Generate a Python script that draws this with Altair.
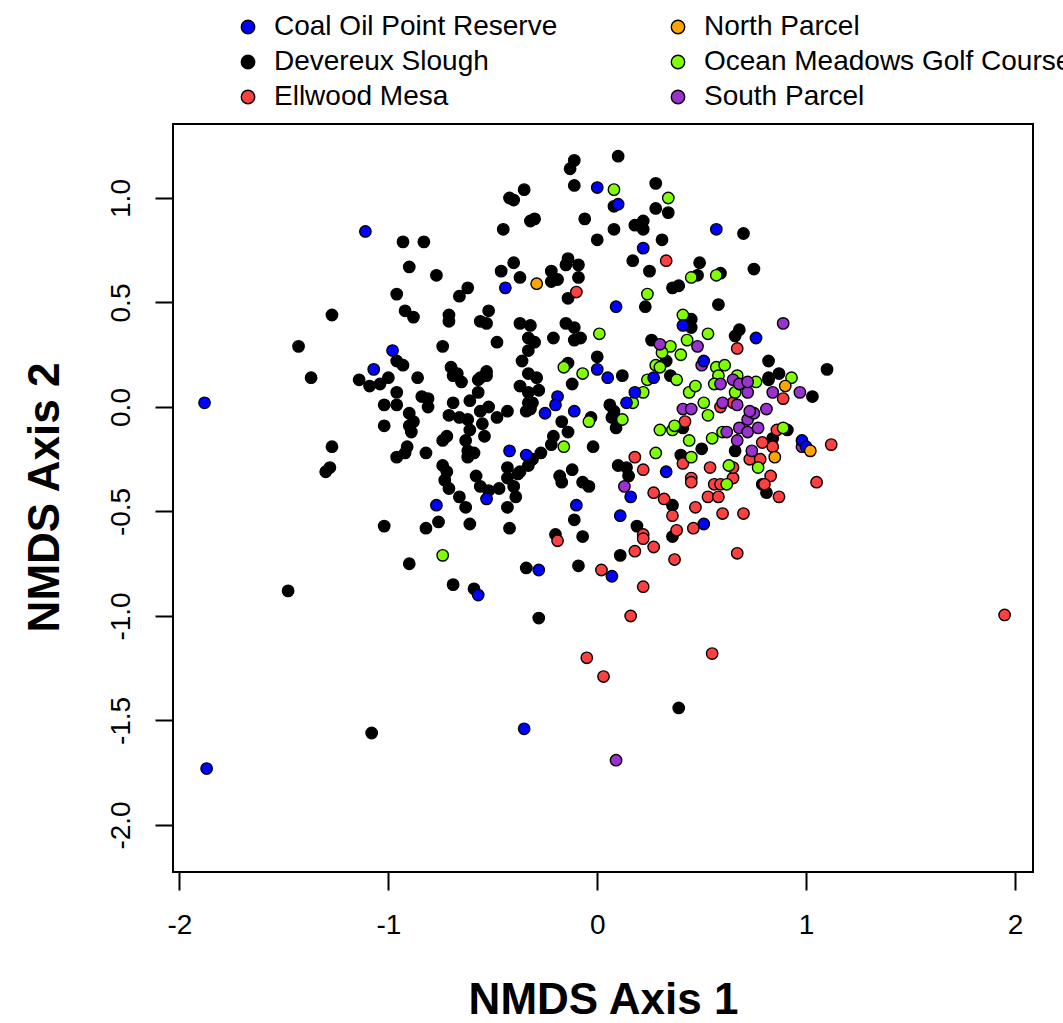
import altair as alt
import pandas as pd

groups = ["Coal Oil Point Reserve", "Devereux Slough", "Ellwood Mesa",
          "North Parcel", "Ocean Meadows Golf Course", "South Parcel"]
palette = ["#0000FF", "#000000", "#FF4040", "#FFA500", "#7FFF00", "#9A32CD"]

coal = [(-1.88,0.02),(-1.87,-1.73),(-0.35,-1.54),(-1.11,0.84),(-0.44,0.57),(-0.98,0.27),(-1.07,0.18),
        (0.00,1.05),(0.10,0.97),(0.57,0.85),(0.22,0.76),(0.09,0.48),(0.41,0.39),(0.76,0.33),(0.51,0.22),
        (0.00,0.18),(0.05,0.14),(0.27,0.14),(-0.42,-0.21),(-0.34,-0.23),(-0.53,-0.44),(-0.77,-0.47),
        (-0.57,-0.90),(-0.28,-0.78),(-0.19,0.05),(-0.20,0.01),(-0.25,-0.03),(-0.11,-0.02),(0.14,0.02),
        (0.18,0.07),(0.16,-0.43),(-0.10,-0.47),(0.11,-0.52),(0.07,-0.81),(0.33,-0.31),(0.51,-0.56),
        (0.98,-0.16),(1.00,-0.19)]

devereux = [(-1.27,0.44),(-1.43,0.29),(-1.37,0.14),(-1.27,-0.19),(-1.30,-0.31),(-1.28,-0.29),(-1.48,-0.88),
            (-1.08,-1.56),(0.39,-1.44),(-0.28,-1.01),
            (-0.35,1.04),(-0.42,1.00),(-0.40,0.99),(-0.32,0.89),(-0.30,0.90),(-0.45,0.85),(-0.93,0.79),
            (-0.83,0.79),(-0.90,0.67),(-0.77,0.63),(-0.40,0.69),(-0.46,0.65),(-0.37,0.62),(-0.62,0.57),
            (-0.66,0.53),(-0.96,0.54),(-0.92,0.46),(-0.88,0.43),(-0.71,0.44),(-0.71,0.41),(-0.52,0.46),
            (-0.56,0.41),(-0.53,0.40),(-0.37,0.40),(-0.32,0.39),(-0.33,0.33),(-0.30,0.31),(-0.33,0.27),
            (-0.48,0.31),(-0.74,0.29),(-0.36,0.22),(-0.96,0.22),(-0.93,0.20),(-0.70,0.19),(-0.67,0.16),
            (-0.53,0.17),(-0.56,0.14),(-1.14,0.13),(-0.86,0.14),(-0.33,0.16),(-0.29,0.14),
            (0.10,1.20),(-0.11,1.18),(-0.13,1.14),(-0.11,1.06),(0.28,1.07),(0.08,0.96),(0.28,0.95),
            (0.34,0.93),(-0.06,0.90),(0.18,0.87),(0.22,0.89),(0.22,0.85),(0.08,0.85),(0.70,0.83),
            (0.00,0.80),(0.31,0.80),(0.17,0.70),(0.49,0.69),(-0.14,0.71),(-0.15,0.68),(-0.09,0.68),
            (0.25,0.65),(0.75,0.66),(-0.22,0.65),(-0.22,0.60),(-0.19,0.61),(-0.09,0.62),(0.48,0.63),
            (0.59,0.64),(-0.14,0.52),(0.36,0.57),(0.39,0.58),(0.23,0.48),(0.58,0.49),(0.45,0.42),
            (0.45,0.38),(-0.15,0.40),(-0.11,0.38),(-0.11,0.32),(-0.08,0.33),(-0.21,0.33),(0.68,0.37),
            (0.66,0.34),(0.26,0.32),(0.00,0.24),(0.82,0.22),(0.33,0.22),(-0.14,0.21),(0.12,0.15),
            (-1.09,0.10),(-1.04,0.11),(-1.00,0.14),(-0.96,0.07),(-1.02,0.01),(-0.96,0.01),(-0.84,0.05),
            (-0.81,0.04),(-0.81,0.00),(-0.90,-0.03),(-0.88,-0.07),(-0.90,-0.09),(-0.89,-0.12),(-1.02,-0.09),
            (-0.69,0.02),(-0.71,-0.04),(-0.66,-0.05),(-0.62,-0.06),(-0.65,0.12),(-0.69,0.15),(-0.57,0.13),
            (-0.53,0.15),(-0.61,0.03),(-0.57,0.07),(-0.56,-0.02),(-0.52,0.00),(-0.48,-0.05),(-0.43,-0.02),
            (-0.55,-0.08),(-0.54,-0.14),(-0.61,-0.11),(-0.63,-0.16),(-0.62,-0.21),(-0.59,-0.22),(-0.62,-0.24),
            (-0.37,0.10),(-0.33,0.07),(-0.33,0.02),(-0.34,-0.02),(-0.31,0.02),(-0.74,-0.16),(-0.72,-0.14),
            (-0.91,-0.19),(-0.96,-0.24),(-0.92,-0.22),(-0.82,-0.22),(-0.74,-0.28),(-0.72,-0.31),(-0.73,-0.35),
            (-0.71,-0.39),(-0.33,-0.28),(-0.43,-0.29),(-0.38,-0.32),(-0.43,-0.34),(-0.40,-0.38),(-0.39,-0.43),
            (-0.58,-0.33),(-0.56,-0.38),(-0.52,-0.40),(-0.47,-0.39),(-0.66,-0.43),(-0.63,-0.48),(-0.43,-0.48),
            (-1.02,-0.57),(-0.82,-0.58),(-0.76,-0.55),(-0.61,-0.56),(-0.42,-0.58),(-0.90,-0.75),(-0.69,-0.85),
            (-0.59,-0.87),(-0.34,-0.77),
            (-0.12,0.11),(-0.32,-0.01),(-0.28,0.08),(-0.17,-0.07),(-0.14,-0.12),(-0.21,-0.14),(-0.22,-0.18),
            (-0.27,-0.22),(-0.31,-0.25),(-0.37,-0.31),(-0.03,-0.05),(-0.02,-0.19),(0.06,0.01),(0.08,-0.02),
            (0.09,-0.10),(0.07,-0.05),(0.35,0.15),(-0.12,-0.30),(-0.18,-0.33),(-0.17,-0.36),(-0.07,-0.36),
            (-0.04,-0.38),(0.10,-0.28),(0.14,-0.29),(0.15,-0.33),(-0.11,-0.54),(-0.20,-0.61),(-0.07,-0.62),
            (-0.09,-0.76),(0.11,-0.71),(0.19,-0.57),(0.36,-0.62),(0.36,-0.47),(0.40,-0.23),(0.50,-0.20),
            (0.66,-0.21),(0.79,-0.37),(0.81,-0.41),(0.84,-0.15),(0.41,-0.10),(0.82,0.14),
            (1.10,0.18),(1.03,0.05),(0.82,0.13),(0.87,0.16),(0.91,-0.11)]

ellwood = [(1.95,-0.995),(-0.05,-1.20),(0.03,-1.29),(0.55,-1.18),(0.16,-1.00),(0.33,0.70),(-0.10,0.55),
           (0.67,0.28),(-0.19,-0.64),(0.02,-0.78),(0.22,-0.86),(0.18,-0.69),(0.27,-0.67),(0.22,-0.61),
           (0.22,-0.63),(0.37,-0.73),(0.38,-0.59),(0.46,-0.58),(0.67,-0.70),(0.18,-0.24),(0.22,-0.30),
           (0.27,-0.41),(0.32,-0.44),(0.36,-0.52),(0.47,-0.48),(0.41,-0.27),(0.45,-0.34),(0.45,-0.36),
           (0.54,-0.29),(0.53,-0.43),(0.58,-0.43),(0.56,-0.37),(0.59,-0.37),(0.60,-0.51),(0.70,-0.51),
           (0.65,-0.34),(0.65,-0.29),(0.73,-0.25),(0.78,-0.25),(0.83,-0.33),(0.80,-0.37),(0.87,-0.43),
           (0.79,-0.17),(0.42,-0.07),(0.59,0.00),(0.65,0.02),(0.86,-0.11),(0.89,0.04),(1.12,-0.18),
           (1.05,-0.36),(0.84,-0.19)]

north = [(-0.29,0.59),(0.85,-0.24),(0.90,0.10),(1.02,-0.21)]

ocean = [(0.08,1.04),(0.34,1.00),(0.45,0.62),(0.57,0.63),(0.24,0.54),(0.41,0.44),(0.01,0.35),(0.53,0.35),
         (0.35,0.29),(0.31,0.26),(0.43,0.32),(0.40,0.25),(-0.16,0.19),(-0.07,0.16),(0.57,0.19),(0.61,0.20),
         (0.28,0.20),(0.30,0.19),(-0.74,-0.71),(-0.16,-0.19),(-0.04,-0.07),(0.12,-0.06),(0.17,0.02),
         (0.22,0.07),(0.24,0.13),(0.38,0.13),(0.28,-0.22),(0.45,-0.24),(0.62,-0.37),(0.63,-0.28),
         (0.77,-0.29),(0.30,-0.11),(0.36,-0.11),(0.37,-0.09),(0.44,-0.16),(0.44,0.07),(0.47,0.10),
         (0.51,0.02),(0.53,-0.04),(0.55,-0.15),(0.60,-0.12),(0.58,0.15),(0.67,0.15),(0.76,0.12),
         (0.66,0.07),(0.56,0.11),(0.93,0.14),(0.89,-0.10)]

south = [(0.09,-1.69),(0.30,0.30),(0.48,0.29),(0.50,0.20),(0.13,-0.38),(0.41,-0.01),(0.45,-0.01),
         (0.62,-0.12),(0.68,-0.10),(0.72,-0.12),(0.67,-0.16),(0.77,-0.10),(0.72,-0.06),(0.75,-0.03),
         (0.67,0.01),(0.73,-0.02),(0.81,-0.01),(0.84,0.07),(0.59,0.11),(0.60,0.02),(0.65,0.13),
         (0.68,0.11),(0.72,0.07),(0.72,0.12),(0.74,-0.21),(0.89,0.40),(0.97,0.07),(0.98,-0.19)]

# drawing order (later on top)
draw = [("Devereux Slough", devereux), ("Ellwood Mesa", ellwood),
        ("Ocean Meadows Golf Course", ocean), ("South Parcel", south),
        ("Coal Oil Point Reserve", coal), ("North Parcel", north)]

rows = []
for g, pts in draw:
    for x, y in pts:
        rows.append({"x": x, "y": y, "site": g})
df = pd.DataFrame(rows)

FONT = "Liberation Sans"
minus_fix = "replace(format(datum.value, '{f}'), '\u2212', '-')"

chart = alt.Chart(df).mark_circle(size=130, stroke="black", strokeWidth=1.4, opacity=1).encode(
    x=alt.X("x:Q",
            scale=alt.Scale(domain=[-2.031, 2.086], nice=False, zero=False),
            axis=alt.Axis(values=[-2, -1, 0, 1, 2], labelExpr=minus_fix.format(f="d"),
                          title="NMDS Axis 1", titleFontSize=44, titleFontWeight="bold",
                          titleFont=FONT, titleColor="black", titleY=128, titleBaseline="middle",
                          labelFontSize=28, labelFont=FONT, labelColor="black", labelPadding=21,
                          tickSize=18, tickWidth=2, tickColor="black", domain=False, grid=False)),
    y=alt.Y("y:Q",
            scale=alt.Scale(domain=[-2.225, 1.354], nice=False, zero=False),
            axis=alt.Axis(values=[-2.0, -1.5, -1.0, -0.5, 0.0, 0.5, 1.0], labelExpr=minus_fix.format(f=".1f"),
                          title="NMDS Axis 2", titleFontSize=44, titleFontWeight="bold",
                          titleFont=FONT, titleColor="black", titleAngle=270, titleX=-128, titleY=373,
                          titleAlign="center", titleBaseline="middle",
                          labelFontSize=28, labelFont=FONT, labelColor="black", labelAngle=270,
                          labelAlign="center", labelBaseline="bottom", labelPadding=20,
                          tickSize=18, tickWidth=2, tickColor="black", domain=False, grid=False)),
    color=alt.Color("site:N",
                    scale=alt.Scale(domain=groups, range=palette),
                    legend=alt.Legend(title=None, orient="none", legendX=61, legendY=-111,
                                      columns=2, columnPadding=106, rowPadding=7,
                                      labelFontSize=28, labelFont=FONT, labelColor="black",
                                      labelLimit=600, labelOffset=12,
                                      symbolType="circle", symbolSize=180, symbolStrokeColor="black",
                                      symbolStrokeWidth=1.4, symbolOpacity=1)),
).properties(
    width=860, height=748,
    padding={"left": 173, "top": 124, "right": 30, "bottom": 151},
    autosize=alt.AutoSizeParams(type="none"),
).configure_view(stroke="black", strokeWidth=2)

chart.save("out.html", embed_options={"renderer": "svg", "actions": False})
